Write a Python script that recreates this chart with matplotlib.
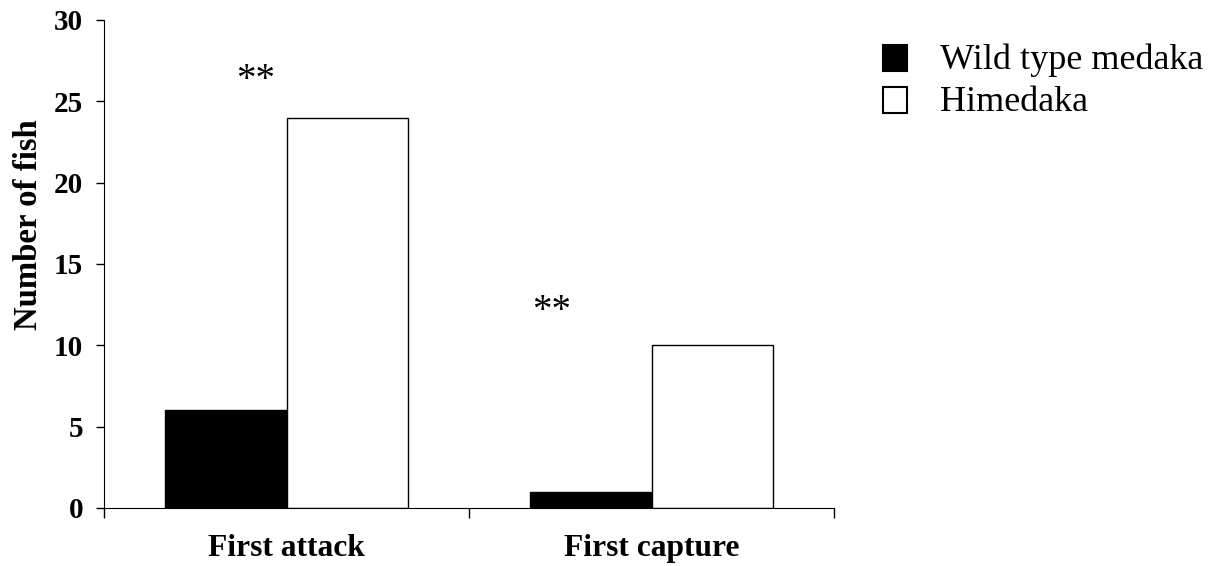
import matplotlib.pyplot as plt
import numpy as np
from matplotlib.patches import Rectangle

plt.rcParams['font.family'] = ['Liberation Serif', 'DejaVu Serif']

categories = ['First attack', 'First capture']
series_names = ['Wild type medaka', 'Himedaka']
wild = [6, 1]
himedaka = [24, 10]
stars = ['**', '**']
star_pos = [(0.414, 26.3), (1.225, 12.1)]

fig = plt.figure(figsize=(12.11, 5.66), dpi=100)
ax = fig.add_axes([0.0859, 0.1025, 0.6028, 0.8622])

x = np.arange(len(categories)) + 0.5
w = 0.333
ax.bar(x - w / 2, wild, w, color='black', edgecolor='black', linewidth=1)
ax.bar(x + w / 2, himedaka, w, color='white', edgecolor='black', linewidth=1)

for s, (sx, sy) in zip(stars, star_pos):
    ax.text(sx, sy, s, ha='center', va='center', fontsize=28)

ax.set_xlim(0, 2)
ax.set_ylim(0, 30)
ax.set_yticks(range(0, 31, 5))
ax.set_yticklabels([str(v) for v in range(0, 31, 5)], fontweight='bold', fontsize=21)
ax.set_xticks([0, 1, 2])
ax.set_xticklabels([])
ax.set_xticks(x, minor=True)
ax.set_xticklabels(categories, minor=True, fontweight='bold', fontsize=22.7)
ax.tick_params(axis='x', which='minor', length=0, pad=19)
ax.tick_params(axis='x', which='major', length=7, direction='out', width=1)
ax.tick_params(axis='y', length=6, direction='out', width=1, pad=9)
ax.set_ylabel('Number of fish', fontweight='bold', fontsize=23.6, va='center')
ax.yaxis.set_label_coords(-0.103, 0.58)

for sp in ['top', 'right']:
    ax.spines[sp].set_visible(False)

# legend drawn by hand to match the spacing
colors = ['black', 'white']
box_y = [0.8746, 0.8004]
for name, c, by in zip(series_names, colors, box_y):
    fig.patches.append(Rectangle((0.7291, by), 0.0198, 0.0459, transform=fig.transFigure,
                                 facecolor=c, edgecolor='black', linewidth=1.5))
    fig.text(0.7762, by + 0.003, name, fontsize=26, va='baseline', ha='left')

plt.savefig('out.png', dpi=100)
